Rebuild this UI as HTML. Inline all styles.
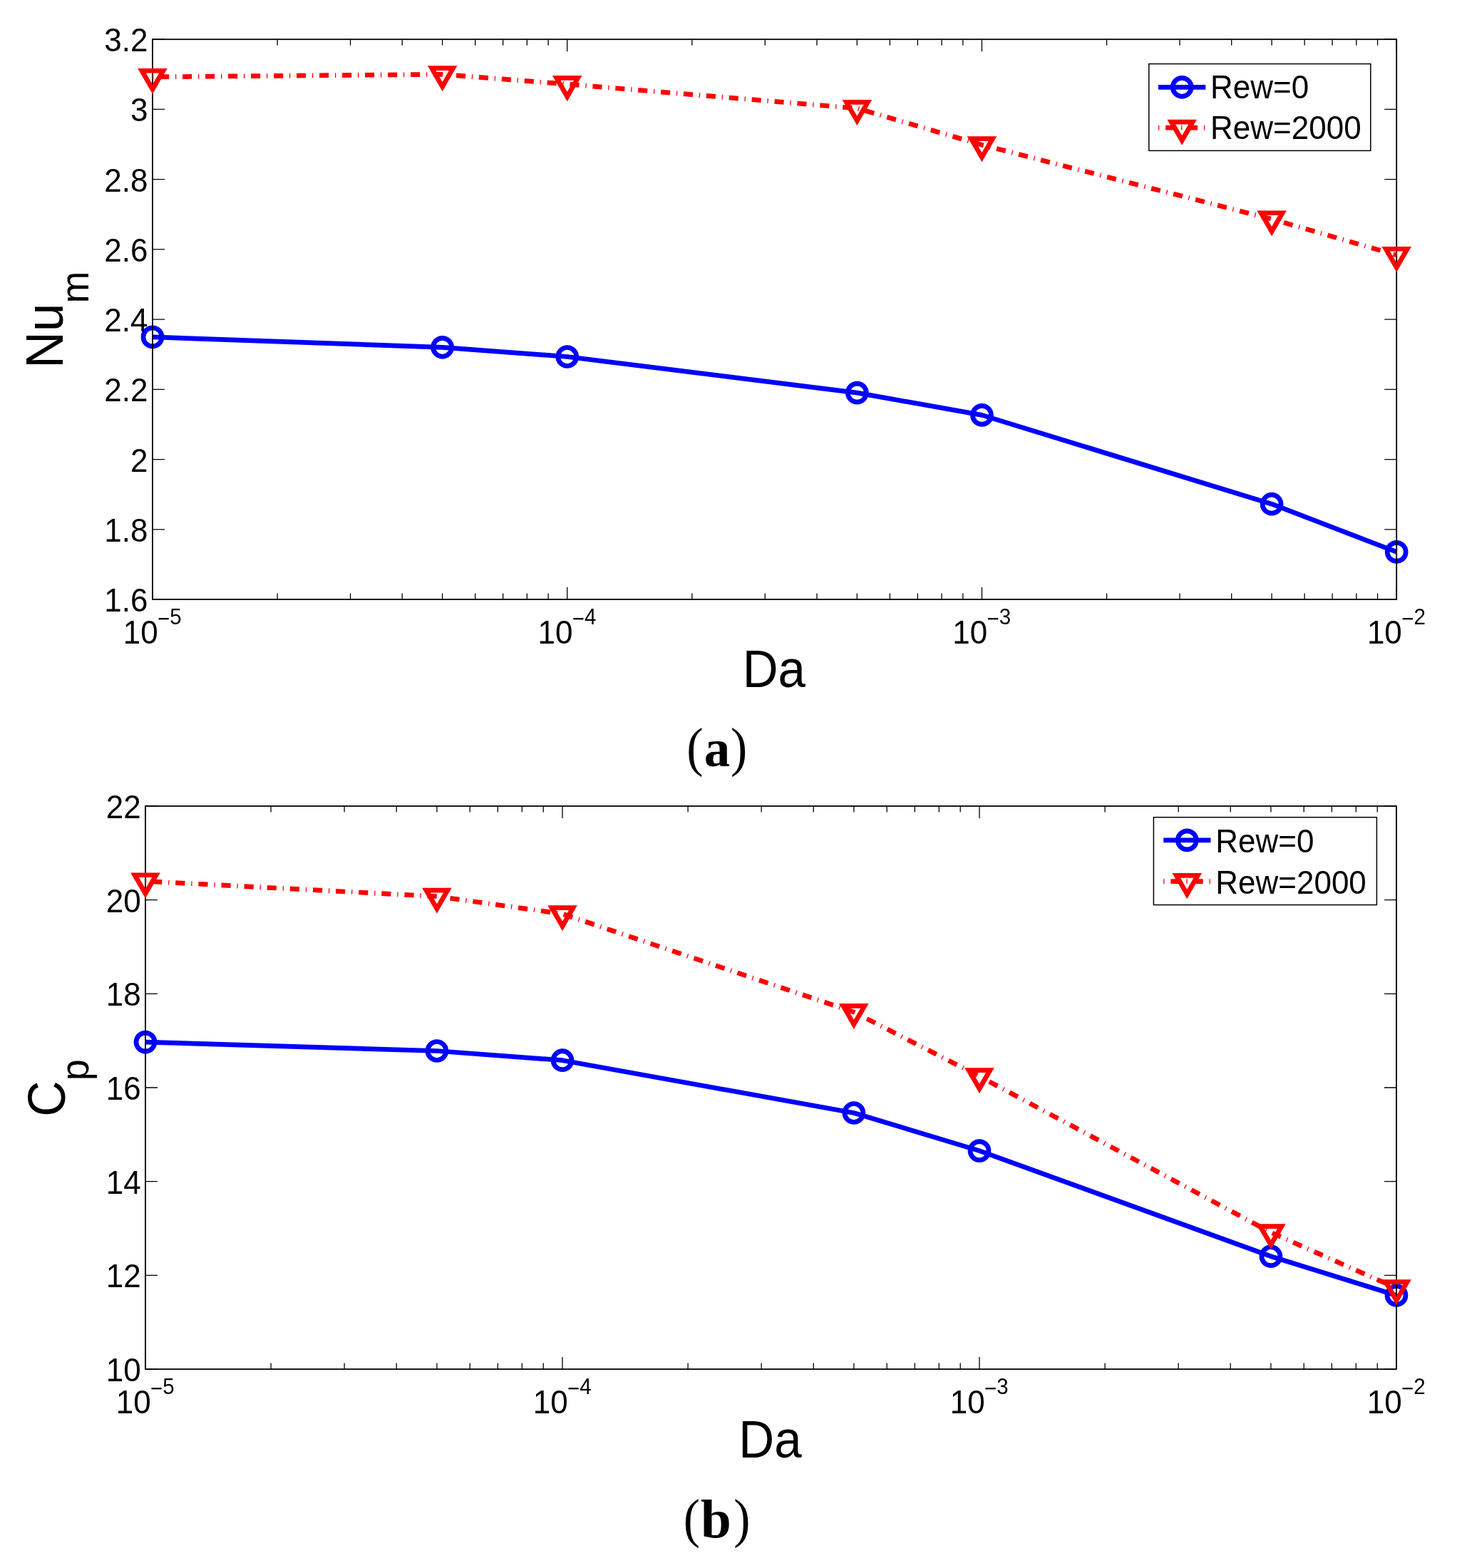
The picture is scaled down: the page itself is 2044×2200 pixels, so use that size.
<!DOCTYPE html>
<html><head><meta charset="utf-8"><title>Figure</title><style>html,body{margin:0;padding:0;background:#fff;}svg{display:block;}</style></head><body>
<svg width="2044" height="2200" viewBox="0 0 2044 2200">
<rect width="2044" height="2200" fill="#fff"/>
<polyline points="214,472.9 620.61,487.3 795.73,500.5 1202.35,551.1 1377.47,582.4 1784.08,707.2 1959.2,774.4" fill="none" stroke="#0000ff" stroke-width="6.7" stroke-linejoin="round" stroke-linecap="butt"/>
<circle cx="214" cy="472.9" r="13.0" fill="none" stroke="#0000ff" stroke-width="6.7"/>
<circle cx="620.61" cy="487.3" r="13.0" fill="none" stroke="#0000ff" stroke-width="6.7"/>
<circle cx="795.73" cy="500.5" r="13.0" fill="none" stroke="#0000ff" stroke-width="6.7"/>
<circle cx="1202.35" cy="551.1" r="13.0" fill="none" stroke="#0000ff" stroke-width="6.7"/>
<circle cx="1377.47" cy="582.4" r="13.0" fill="none" stroke="#0000ff" stroke-width="6.7"/>
<circle cx="1784.08" cy="707.2" r="13.0" fill="none" stroke="#0000ff" stroke-width="6.7"/>
<circle cx="1959.2" cy="774.4" r="13.0" fill="none" stroke="#0000ff" stroke-width="6.7"/>
<rect x="214" y="55.2" width="1745.2" height="785.8" fill="none" stroke="#000" stroke-width="1.8"/>
<path d="M214 841V824M214 55.2V72.2M795.73 841V824M795.73 55.2V72.2M1377.47 841V824M1377.47 55.2V72.2M1959.2 841V824M1959.2 55.2V72.2M389.12 841V832.5M389.12 55.2V63.7M491.56 841V832.5M491.56 55.2V63.7M564.24 841V832.5M564.24 55.2V63.7M620.61 841V832.5M620.61 55.2V63.7M666.68 841V832.5M666.68 55.2V63.7M705.62 841V832.5M705.62 55.2V63.7M739.36 841V832.5M739.36 55.2V63.7M769.11 841V832.5M769.11 55.2V63.7M970.85 841V832.5M970.85 55.2V63.7M1073.29 841V832.5M1073.29 55.2V63.7M1145.97 841V832.5M1145.97 55.2V63.7M1202.35 841V832.5M1202.35 55.2V63.7M1248.41 841V832.5M1248.41 55.2V63.7M1287.36 841V832.5M1287.36 55.2V63.7M1321.09 841V832.5M1321.09 55.2V63.7M1350.85 841V832.5M1350.85 55.2V63.7M1552.59 841V832.5M1552.59 55.2V63.7M1655.02 841V832.5M1655.02 55.2V63.7M1727.71 841V832.5M1727.71 55.2V63.7M1784.08 841V832.5M1784.08 55.2V63.7M1830.14 841V832.5M1830.14 55.2V63.7M1869.09 841V832.5M1869.09 55.2V63.7M1902.82 841V832.5M1902.82 55.2V63.7M1932.58 841V832.5M1932.58 55.2V63.7M214 841H231M1959.2 841H1942.2M214 742.78H231M1959.2 742.78H1942.2M214 644.55H231M1959.2 644.55H1942.2M214 546.33H231M1959.2 546.33H1942.2M214 448.1H231M1959.2 448.1H1942.2M214 349.88H231M1959.2 349.88H1942.2M214 251.65H231M1959.2 251.65H1942.2M214 153.43H231M1959.2 153.43H1942.2M214 55.2H231M1959.2 55.2H1942.2" fill="none" stroke="#000" stroke-width="1.3"/>
<polyline points="214,107.9 620.61,104.3 795.73,118.1 1202.35,152 1377.47,203.3 1784.08,307.4 1959.2,357.9" fill="none" stroke="#ff0000" stroke-width="6.7" stroke-dasharray="1.3 8.8 13.1 8.8" stroke-linejoin="miter" stroke-linecap="butt"/>
<path d="M198.99 99.23L229.01 99.23L214 125.23Z" fill="none" stroke="#ff0000" stroke-width="6.7" stroke-linejoin="miter" stroke-miterlimit="10"/>
<path d="M605.6 95.63L635.63 95.63L620.61 121.63Z" fill="none" stroke="#ff0000" stroke-width="6.7" stroke-linejoin="miter" stroke-miterlimit="10"/>
<path d="M780.72 109.43L810.74 109.43L795.73 135.43Z" fill="none" stroke="#ff0000" stroke-width="6.7" stroke-linejoin="miter" stroke-miterlimit="10"/>
<path d="M1187.34 143.33L1217.36 143.33L1202.35 169.33Z" fill="none" stroke="#ff0000" stroke-width="6.7" stroke-linejoin="miter" stroke-miterlimit="10"/>
<path d="M1362.46 194.63L1392.48 194.63L1377.47 220.63Z" fill="none" stroke="#ff0000" stroke-width="6.7" stroke-linejoin="miter" stroke-miterlimit="10"/>
<path d="M1769.07 298.73L1799.09 298.73L1784.08 324.73Z" fill="none" stroke="#ff0000" stroke-width="6.7" stroke-linejoin="miter" stroke-miterlimit="10"/>
<path d="M1944.19 349.23L1974.21 349.23L1959.2 375.23Z" fill="none" stroke="#ff0000" stroke-width="6.7" stroke-linejoin="miter" stroke-miterlimit="10"/>
<text transform="translate(207.5 858) scale(1 1.040)" font-family='"Liberation Sans", Arial, Helvetica, sans-serif' font-size="44" text-anchor="end">1.6</text>
<text transform="translate(207.5 759.78) scale(1 1.040)" font-family='"Liberation Sans", Arial, Helvetica, sans-serif' font-size="44" text-anchor="end">1.8</text>
<text transform="translate(207.5 661.55) scale(1 1.040)" font-family='"Liberation Sans", Arial, Helvetica, sans-serif' font-size="44" text-anchor="end">2</text>
<text transform="translate(207.5 563.33) scale(1 1.040)" font-family='"Liberation Sans", Arial, Helvetica, sans-serif' font-size="44" text-anchor="end">2.2</text>
<text transform="translate(207.5 465.1) scale(1 1.040)" font-family='"Liberation Sans", Arial, Helvetica, sans-serif' font-size="44" text-anchor="end">2.4</text>
<text transform="translate(207.5 366.88) scale(1 1.040)" font-family='"Liberation Sans", Arial, Helvetica, sans-serif' font-size="44" text-anchor="end">2.6</text>
<text transform="translate(207.5 268.65) scale(1 1.040)" font-family='"Liberation Sans", Arial, Helvetica, sans-serif' font-size="44" text-anchor="end">2.8</text>
<text transform="translate(207.5 170.43) scale(1 1.040)" font-family='"Liberation Sans", Arial, Helvetica, sans-serif' font-size="44" text-anchor="end">3</text>
<text transform="translate(207.5 72.2) scale(1 1.040)" font-family='"Liberation Sans", Arial, Helvetica, sans-serif' font-size="44" text-anchor="end">3.2</text>
<text transform="translate(172.7 902.6) scale(1 1.040)" font-family='"Liberation Sans", Arial, Helvetica, sans-serif' font-size="44">10</text>
<text transform="translate(221 878.8) scale(1 1.080)" font-family='"Liberation Sans", Arial, Helvetica, sans-serif' font-size="29.5">&#8722;</text>
<text transform="translate(238.23 876) scale(1 1.080)" font-family='"Liberation Sans", Arial, Helvetica, sans-serif' font-size="29.5">5</text>
<text transform="translate(754.43 902.6) scale(1 1.040)" font-family='"Liberation Sans", Arial, Helvetica, sans-serif' font-size="44">10</text>
<text transform="translate(802.73 878.8) scale(1 1.080)" font-family='"Liberation Sans", Arial, Helvetica, sans-serif' font-size="29.5">&#8722;</text>
<text transform="translate(819.96 876) scale(1 1.080)" font-family='"Liberation Sans", Arial, Helvetica, sans-serif' font-size="29.5">4</text>
<text transform="translate(1336.17 902.6) scale(1 1.040)" font-family='"Liberation Sans", Arial, Helvetica, sans-serif' font-size="44">10</text>
<text transform="translate(1384.47 878.8) scale(1 1.080)" font-family='"Liberation Sans", Arial, Helvetica, sans-serif' font-size="29.5">&#8722;</text>
<text transform="translate(1401.69 876) scale(1 1.080)" font-family='"Liberation Sans", Arial, Helvetica, sans-serif' font-size="29.5">3</text>
<text transform="translate(1917.9 902.6) scale(1 1.040)" font-family='"Liberation Sans", Arial, Helvetica, sans-serif' font-size="44">10</text>
<text transform="translate(1966.2 878.8) scale(1 1.080)" font-family='"Liberation Sans", Arial, Helvetica, sans-serif' font-size="29.5">&#8722;</text>
<text transform="translate(1983.43 876) scale(1 1.080)" font-family='"Liberation Sans", Arial, Helvetica, sans-serif' font-size="29.5">2</text>
<text transform="translate(1041.64 963.9) scale(0.96 1.032)" font-family='"Liberation Sans", Arial, Helvetica, sans-serif' font-size="72">Da</text>
<text transform="translate(87.6 516.84) rotate(-90) scale(0.99 1.035)" font-family='"Liberation Sans", Arial, Helvetica, sans-serif' font-size="72">Nu</text>
<text transform="translate(123.8 425.58) rotate(-90) scale(0.98 1.000)" font-family='"Liberation Sans", Arial, Helvetica, sans-serif' font-size="55">m</text>
<rect x="1611.8" y="89.6" width="311" height="121.8" fill="#fff" stroke="#000" stroke-width="1.5"/>
<path d="M1625 122.3H1691.3" stroke="#0000ff" stroke-width="6.7"/>
<circle cx="1658.2" cy="122.3" r="13.0" fill="none" stroke="#0000ff" stroke-width="6.7"/>
<path d="M1625 179.2H1691.3" stroke="#ff0000" stroke-width="6.7" stroke-dasharray="1.3 8.8 13.1 8.8"/>
<path d="M1643.19 171.03L1673.21 171.03L1658.2 197.03Z" fill="none" stroke="#ff0000" stroke-width="6.7" stroke-linejoin="miter" stroke-miterlimit="10"/>
<text transform="translate(1698.09 138.2) scale(1 1.035)" font-family='"Liberation Sans", Arial, Helvetica, sans-serif' font-size="44">Rew=0</text>
<text transform="translate(1698.09 195) scale(1 1.035)" font-family='"Liberation Sans", Arial, Helvetica, sans-serif' font-size="44">Rew=2000</text>
<polyline points="204,1462.1 612.9,1474.5 789,1487.7 1197.9,1561.5 1374,1614.6 1782.9,1762.7 1959,1817.5" fill="none" stroke="#0000ff" stroke-width="6.7" stroke-linejoin="round" stroke-linecap="butt"/>
<circle cx="204" cy="1462.1" r="13.0" fill="none" stroke="#0000ff" stroke-width="6.7"/>
<circle cx="612.9" cy="1474.5" r="13.0" fill="none" stroke="#0000ff" stroke-width="6.7"/>
<circle cx="789" cy="1487.7" r="13.0" fill="none" stroke="#0000ff" stroke-width="6.7"/>
<circle cx="1197.9" cy="1561.5" r="13.0" fill="none" stroke="#0000ff" stroke-width="6.7"/>
<circle cx="1374" cy="1614.6" r="13.0" fill="none" stroke="#0000ff" stroke-width="6.7"/>
<circle cx="1782.9" cy="1762.7" r="13.0" fill="none" stroke="#0000ff" stroke-width="6.7"/>
<circle cx="1959" cy="1817.5" r="13.0" fill="none" stroke="#0000ff" stroke-width="6.7"/>
<rect x="204" y="1131" width="1755" height="790" fill="none" stroke="#000" stroke-width="1.8"/>
<path d="M204 1921V1904M204 1131V1148M789 1921V1904M789 1131V1148M1374 1921V1904M1374 1131V1148M1959 1921V1904M1959 1131V1148M380.1 1921V1912.5M380.1 1131V1139.5M483.12 1921V1912.5M483.12 1131V1139.5M556.21 1921V1912.5M556.21 1131V1139.5M612.9 1921V1912.5M612.9 1131V1139.5M659.22 1921V1912.5M659.22 1131V1139.5M698.38 1921V1912.5M698.38 1131V1139.5M732.31 1921V1912.5M732.31 1131V1139.5M762.23 1921V1912.5M762.23 1131V1139.5M965.1 1921V1912.5M965.1 1131V1139.5M1068.12 1921V1912.5M1068.12 1131V1139.5M1141.21 1921V1912.5M1141.21 1131V1139.5M1197.9 1921V1912.5M1197.9 1131V1139.5M1244.22 1921V1912.5M1244.22 1131V1139.5M1283.38 1921V1912.5M1283.38 1131V1139.5M1317.31 1921V1912.5M1317.31 1131V1139.5M1347.23 1921V1912.5M1347.23 1131V1139.5M1550.1 1921V1912.5M1550.1 1131V1139.5M1653.12 1921V1912.5M1653.12 1131V1139.5M1726.21 1921V1912.5M1726.21 1131V1139.5M1782.9 1921V1912.5M1782.9 1131V1139.5M1829.22 1921V1912.5M1829.22 1131V1139.5M1868.38 1921V1912.5M1868.38 1131V1139.5M1902.31 1921V1912.5M1902.31 1131V1139.5M1932.23 1921V1912.5M1932.23 1131V1139.5M204 1921H221M1959 1921H1942M204 1789.33H221M1959 1789.33H1942M204 1657.67H221M1959 1657.67H1942M204 1526H221M1959 1526H1942M204 1394.33H221M1959 1394.33H1942M204 1262.67H221M1959 1262.67H1942M204 1131H221M1959 1131H1942" fill="none" stroke="#000" stroke-width="1.3"/>
<polyline points="204,1236.4 612.9,1257.7 789,1282.2 1197.9,1420 1374,1510.2 1782.9,1729.2 1959,1807.3" fill="none" stroke="#ff0000" stroke-width="6.7" stroke-dasharray="1.31 8.84 13.17 8.84" stroke-linejoin="miter" stroke-linecap="butt"/>
<path d="M188.99 1227.73L219.01 1227.73L204 1253.73Z" fill="none" stroke="#ff0000" stroke-width="6.7" stroke-linejoin="miter" stroke-miterlimit="10"/>
<path d="M597.89 1249.03L627.91 1249.03L612.9 1275.03Z" fill="none" stroke="#ff0000" stroke-width="6.7" stroke-linejoin="miter" stroke-miterlimit="10"/>
<path d="M773.99 1273.53L804.01 1273.53L789 1299.53Z" fill="none" stroke="#ff0000" stroke-width="6.7" stroke-linejoin="miter" stroke-miterlimit="10"/>
<path d="M1182.89 1411.33L1212.91 1411.33L1197.9 1437.33Z" fill="none" stroke="#ff0000" stroke-width="6.7" stroke-linejoin="miter" stroke-miterlimit="10"/>
<path d="M1358.99 1501.53L1389.01 1501.53L1374 1527.53Z" fill="none" stroke="#ff0000" stroke-width="6.7" stroke-linejoin="miter" stroke-miterlimit="10"/>
<path d="M1767.89 1720.53L1797.91 1720.53L1782.9 1746.53Z" fill="none" stroke="#ff0000" stroke-width="6.7" stroke-linejoin="miter" stroke-miterlimit="10"/>
<path d="M1943.99 1798.63L1974.01 1798.63L1959 1824.63Z" fill="none" stroke="#ff0000" stroke-width="6.7" stroke-linejoin="miter" stroke-miterlimit="10"/>
<text transform="translate(197.6 1938) scale(1 1.040)" font-family='"Liberation Sans", Arial, Helvetica, sans-serif' font-size="44" text-anchor="end">10</text>
<text transform="translate(197.6 1806.33) scale(1 1.040)" font-family='"Liberation Sans", Arial, Helvetica, sans-serif' font-size="44" text-anchor="end">12</text>
<text transform="translate(197.6 1674.67) scale(1 1.040)" font-family='"Liberation Sans", Arial, Helvetica, sans-serif' font-size="44" text-anchor="end">14</text>
<text transform="translate(197.6 1543) scale(1 1.040)" font-family='"Liberation Sans", Arial, Helvetica, sans-serif' font-size="44" text-anchor="end">16</text>
<text transform="translate(197.6 1411.33) scale(1 1.040)" font-family='"Liberation Sans", Arial, Helvetica, sans-serif' font-size="44" text-anchor="end">18</text>
<text transform="translate(197.6 1279.67) scale(1 1.040)" font-family='"Liberation Sans", Arial, Helvetica, sans-serif' font-size="44" text-anchor="end">20</text>
<text transform="translate(197.6 1148) scale(1 1.040)" font-family='"Liberation Sans", Arial, Helvetica, sans-serif' font-size="44" text-anchor="end">22</text>
<text transform="translate(162.7 1982.6) scale(1 1.040)" font-family='"Liberation Sans", Arial, Helvetica, sans-serif' font-size="44">10</text>
<text transform="translate(211 1958.8) scale(1 1.080)" font-family='"Liberation Sans", Arial, Helvetica, sans-serif' font-size="29.5">&#8722;</text>
<text transform="translate(228.23 1956) scale(1 1.080)" font-family='"Liberation Sans", Arial, Helvetica, sans-serif' font-size="29.5">5</text>
<text transform="translate(747.7 1982.6) scale(1 1.040)" font-family='"Liberation Sans", Arial, Helvetica, sans-serif' font-size="44">10</text>
<text transform="translate(796 1958.8) scale(1 1.080)" font-family='"Liberation Sans", Arial, Helvetica, sans-serif' font-size="29.5">&#8722;</text>
<text transform="translate(813.23 1956) scale(1 1.080)" font-family='"Liberation Sans", Arial, Helvetica, sans-serif' font-size="29.5">4</text>
<text transform="translate(1332.7 1982.6) scale(1 1.040)" font-family='"Liberation Sans", Arial, Helvetica, sans-serif' font-size="44">10</text>
<text transform="translate(1381 1958.8) scale(1 1.080)" font-family='"Liberation Sans", Arial, Helvetica, sans-serif' font-size="29.5">&#8722;</text>
<text transform="translate(1398.23 1956) scale(1 1.080)" font-family='"Liberation Sans", Arial, Helvetica, sans-serif' font-size="29.5">3</text>
<text transform="translate(1917.7 1982.6) scale(1 1.040)" font-family='"Liberation Sans", Arial, Helvetica, sans-serif' font-size="44">10</text>
<text transform="translate(1966 1958.8) scale(1 1.080)" font-family='"Liberation Sans", Arial, Helvetica, sans-serif' font-size="29.5">&#8722;</text>
<text transform="translate(1983.23 1956) scale(1 1.080)" font-family='"Liberation Sans", Arial, Helvetica, sans-serif' font-size="29.5">2</text>
<text transform="translate(1036.34 2045.1) scale(0.96 1.032)" font-family='"Liberation Sans", Arial, Helvetica, sans-serif' font-size="72">Da</text>
<text transform="translate(90.9 1566.87) rotate(-90) scale(0.97 1.035)" font-family='"Liberation Sans", Arial, Helvetica, sans-serif' font-size="72">C</text>
<text transform="translate(124.3 1516.28) rotate(-90) scale(0.98 1.000)" font-family='"Liberation Sans", Arial, Helvetica, sans-serif' font-size="55">p</text>
<rect x="1618.4" y="1146.7" width="313" height="122.9" fill="#fff" stroke="#000" stroke-width="1.5"/>
<path d="M1632.2 1178.9H1698.5" stroke="#0000ff" stroke-width="6.7"/>
<circle cx="1665.3" cy="1178.9" r="13.0" fill="none" stroke="#0000ff" stroke-width="6.7"/>
<path d="M1632.2 1236.6H1698.5" stroke="#ff0000" stroke-width="6.7" stroke-dasharray="1.31 8.84 13.17 8.84"/>
<path d="M1650.29 1228.43L1680.31 1228.43L1665.3 1254.43Z" fill="none" stroke="#ff0000" stroke-width="6.7" stroke-linejoin="miter" stroke-miterlimit="10"/>
<text transform="translate(1705.29 1196) scale(1 1.035)" font-family='"Liberation Sans", Arial, Helvetica, sans-serif' font-size="44">Rew=0</text>
<text transform="translate(1705.29 1253.8) scale(1 1.035)" font-family='"Liberation Sans", Arial, Helvetica, sans-serif' font-size="44">Rew=2000</text>
<text transform="translate(963.23 1074.42) scale(0.92 1.000)" font-family='"Liberation Serif", "Times New Roman", serif' font-size="76">(</text>
<text transform="translate(1024.99 1074.42) scale(0.92 1.000)" font-family='"Liberation Serif", "Times New Roman", serif' font-size="76">)</text>
<text transform="translate(987.65 1075.3)" font-family='"Liberation Serif", "Times New Roman", serif' font-size="73" font-weight="bold">a</text>
<text transform="translate(958.73 2155.52) scale(0.92 1.000)" font-family='"Liberation Serif", "Times New Roman", serif' font-size="76">(</text>
<text transform="translate(1029.29 2155.52) scale(0.92 1.000)" font-family='"Liberation Serif", "Times New Roman", serif' font-size="76">)</text>
<text transform="translate(982.92 2156.5)" font-family='"Liberation Serif", "Times New Roman", serif' font-size="77" font-weight="bold">b</text>
</svg>
</body></html>
